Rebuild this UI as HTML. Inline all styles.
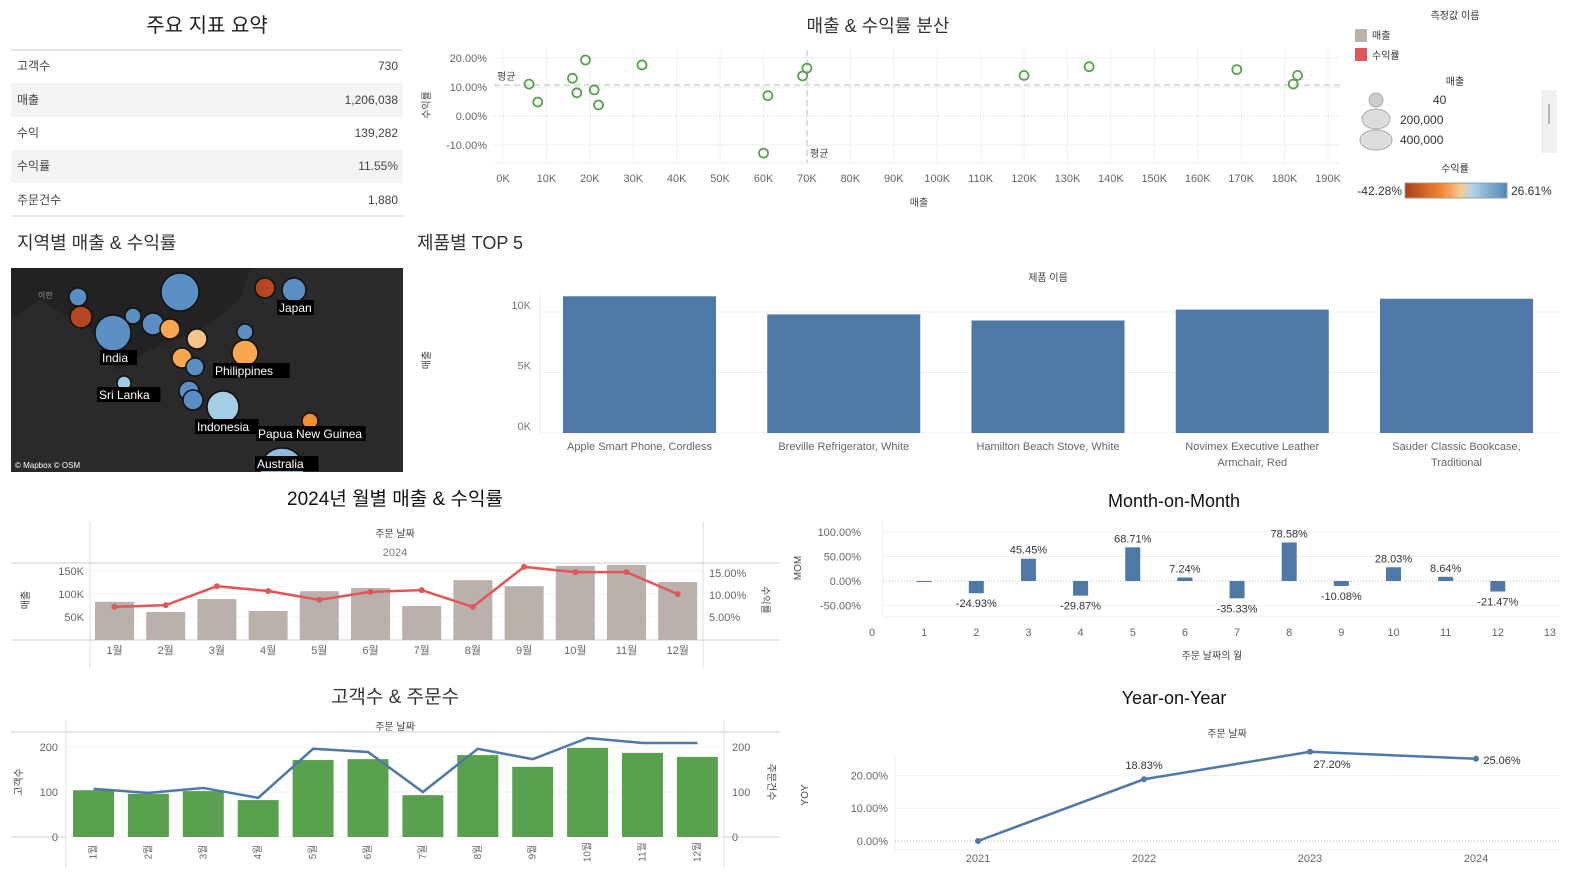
<!DOCTYPE html>
<html><head><meta charset="utf-8"><style>
body{margin:0;background:#fff;font-family:"Liberation Sans","Noto Sans CJK KR",sans-serif}
svg{display:block}
text{font-family:"Liberation Sans","Noto Sans CJK KR",sans-serif}
</style></head><body>
<svg id="s" width="1596" height="890" xmlns="http://www.w3.org/2000/svg">
<defs>
<clipPath id="mapclip"><rect x="11" y="268" width="392" height="204"/></clipPath>
<linearGradient id="g1"><stop offset="0" stop-color="#a8401a"/><stop offset="0.35" stop-color="#f2852e"/><stop offset="0.55" stop-color="#f7c996"/><stop offset="0.65" stop-color="#b6d4e8"/><stop offset="1" stop-color="#4f85b8"/></linearGradient>
</defs>
<!-- Summary -->
<g>
<text x="207" y="32" font-size="20" text-anchor="middle" fill="#222">주요 지표 요약</text>
<line x1="11" y1="50" x2="403" y2="50" stroke="#ccc"/>
<rect x="11" y="83" width="392" height="34" fill="#f4f4f4"/>
<rect x="11" y="150" width="392" height="33" fill="#f4f4f4"/>
<line x1="11" y1="216" x2="403" y2="216" stroke="#ccc"/>
<g font-size="12" fill="#444">
<text x="17" y="70">고객수</text><text x="398" y="70" text-anchor="end">730</text>
<text x="17" y="104">매출</text><text x="398" y="104" text-anchor="end">1,206,038</text>
<text x="17" y="137">수익</text><text x="398" y="137" text-anchor="end">139,282</text>
<text x="17" y="170">수익률</text><text x="398" y="170" text-anchor="end">11.55%</text>
<text x="17" y="204">주문건수</text><text x="398" y="204" text-anchor="end">1,880</text>
</g></g>
<!-- Map -->
<text x="17" y="249" font-size="18" fill="#333">지역별 매출 &amp; 수익률</text>
<g clip-path="url(#mapclip)">
<rect x="11" y="268" width="392" height="204" fill="#2a2a2a"/>
<path d="M11,268 L250,268 L240,300 L200,330 L150,350 L115,370 L90,330 L40,300 L11,320Z" fill="#222"/>
<text x="38" y="298" font-size="8" fill="#999">이란</text>
<g id="mapdots" stroke="#111" stroke-width="1.5"></g>
<g font-size="12" fill="#fff" id="maplabels"></g>
<text x="15" y="468" font-size="8" fill="#fff">© Mapbox © OSM</text>
</g>
<!-- Scatter -->
<text x="878" y="32" font-size="18" fill="#333" text-anchor="middle">매출 &amp; 수익률 분산</text>
<g id="scatter"></g>
<!-- Legends -->
<g font-size="10" fill="#333">
<text x="1455" y="19" font-size="10" text-anchor="middle">측정값 이름</text>
<rect x="1355" y="29" width="12" height="13" fill="#bab0ac"/>
<text x="1372" y="39">매출</text>
<rect x="1355" y="48" width="12" height="13" fill="#e15759"/>
<text x="1372" y="59">수익률</text>
<text x="1455" y="85" text-anchor="middle">매출</text>
<ellipse cx="1376" cy="100" rx="7" ry="7" fill="#ccc" stroke="#aaa"/>
<ellipse cx="1376" cy="119" rx="14" ry="10" fill="#ddd" stroke="#aaa"/>
<ellipse cx="1376" cy="140" rx="16" ry="10" fill="#ddd" stroke="#aaa"/>
<text x="1433" y="104" font-size="12">40</text>
<text x="1400" y="124" font-size="12">200,000</text>
<text x="1400" y="144" font-size="12">400,000</text>
<rect x="1541" y="90" width="16" height="63" fill="#f0f0f0"/>
<line x1="1549" y1="104" x2="1549" y2="124" stroke="#777"/>
<text x="1455" y="172" text-anchor="middle">수익률</text>
<rect x="1405" y="183" width="102" height="15" fill="url(#g1)" stroke="#999"/>
<text x="1402" y="195" text-anchor="end" font-size="12">-42.28%</text>
<text x="1511" y="195" font-size="12">26.61%</text>
</g>
<!-- Top5 -->
<text x="417" y="249" font-size="18" fill="#333">제품별 TOP 5</text>
<g id="top5"></g>
<!-- Monthly -->
<text x="395" y="505" font-size="19" fill="#111" text-anchor="middle">2024년 월별 매출 &amp; 수익률</text>
<g id="monthly"></g>
<!-- Customers -->
<text x="395" y="703" font-size="19" fill="#333" text-anchor="middle">고객수 &amp; 주문수</text>
<g id="cust"></g>
<!-- MoM -->
<text x="1174" y="507" font-size="18" fill="#111" text-anchor="middle">Month-on-Month</text>
<g id="mom"></g>
<!-- YoY -->
<text x="1174" y="704" font-size="18" fill="#111" text-anchor="middle">Year-on-Year</text>
<g id="yoy"></g>
</svg>
<script>
const NS="http://www.w3.org/2000/svg";
function el(p,t,a,txt){const e=document.createElementNS(NS,t);for(const k in a)e.setAttribute(k,a[k]);if(txt!==undefined)e.textContent=txt;p.appendChild(e);return e;}
const G=id=>document.getElementById(id);

// map data
const mapX=[78,81,113,133,153,170,197,182,195,180,265,294,245,245,124,189,193,223,310,282];
const mapY=[297,317,333,316,324,329,339,358,367,292,288,290,332,353,383,391,400,407,421,470];
const mapR=[9,11,18,8,11,10,10,10,9,19,10,12,8,13,7,10,10,16,8,22];
const mapC=["#5b8fc4","#b5461f","#5b8fc4","#5b8fc4","#5b8fc4","#f8a74e","#f4c38a","#f8a74e","#5b8fc4","#5b8fc4","#b5461f","#5b8fc4","#5b8fc4","#f8a74e","#9ccae6","#5b8fc4","#5b8fc4","#a4cfe6","#f28e2b","#8cbde0"];
const mapLabels=["Japan","India","Philippines","Sri Lanka","Indonesia","Papua New Guinea","Australia"];
const mapLX=[279,102,215,99,197,258,257];
const mapLY=[312,362,375,399,431,438,468];
{const g=G('mapdots');mapX.forEach((x,i)=>{const c=el(g,'circle',{cx:x,cy:mapY[i],r:mapR[i],fill:mapC[i]});

});
const gl=G('maplabels');mapLabels.forEach((t,i)=>{const w=t.length*6.6+4;el(gl,'rect',{x:mapLX[i]-2,y:mapLY[i]-12,width:w,height:15,fill:'#000'});const tx=el(gl,'text',{x:mapLX[i],y:mapLY[i]},t);

});}

// scatter
const scSales=[6,8,19,16,17,21,22,32,61,60,69,70,120,135,169,182,183];
const scProfit=[11,4.8,19.3,13,8,9,3.8,17.6,7,-12.8,13.8,16.5,14,17,16,11,14];
const scXTicks=[0,10,20,30,40,50,60,70,80,90,100,110,120,130,140,150,160,170,180,190];
const scYTicks=[20,10,0,-10];
{const g=G('scatter');const sx=v=>503+v*4.342,sy=v=>116-v*2.9;
el(g,'line',{x1:494,y1:163,x2:1340,y2:163,stroke:'#eee'});
scXTicks.forEach(t=>{el(g,'line',{x1:sx(t),y1:50,x2:sx(t),y2:163,stroke:'#f0f0f0'});el(g,'text',{x:sx(t),y:182,'font-size':11,fill:'#666','text-anchor':'middle'},t+'K');});
scYTicks.forEach(t=>{el(g,'line',{x1:494,y1:sy(t),x2:1340,y2:sy(t),stroke:t===0?'#ccc':'#eee','stroke-dasharray':t===0?'1,2':''});el(g,'text',{x:487,y:sy(t)+4,'font-size':11,fill:'#666','text-anchor':'end'},t.toFixed(2)+'%');});
el(g,'line',{x1:494,y1:85,x2:1340,y2:85,stroke:'#ddd','stroke-width':2,'stroke-dasharray':'6,4'});
el(g,'line',{x1:807,y1:50,x2:807,y2:163,stroke:'#ddd','stroke-width':2,'stroke-dasharray':'6,4'});
el(g,'text',{x:497,y:80,'font-size':10,fill:'#444'},'평균');el(g,'text',{x:810,y:157,'font-size':10,fill:'#444'},'평균');
el(g,'text',{x:919,y:206,'font-size':10,fill:'#444','text-anchor':'middle'},'매출');
el(g,'text',{x:0,y:0,'font-size':10,fill:'#444','text-anchor':'middle',transform:'translate(430,105) rotate(-90)'},'수익률');
scSales.forEach((v,i)=>{const c=el(g,'circle',{cx:sx(v),cy:sy(scProfit[i]),r:4.5,fill:'none',stroke:'#59a14f','stroke-width':1.8});

});}

// top5
const topNames=[["Apple Smart Phone, Cordless"],["Breville Refrigerator, White"],["Hamilton Beach Stove, White"],["Novimex Executive Leather","Armchair, Red"],["Sauder Classic Bookcase,","Traditional"]];
const topSales=[11.3,9.8,9.3,10.2,11.1];
const topTicks=[0,5,10];
{const g=G('top5');const sy=v=>433-v*12.1;
el(g,'text',{x:1048,y:281,'font-size':10,fill:'#444','text-anchor':'middle'},'제품 이름');
el(g,'line',{x1:540,y1:290,x2:540,y2:435,stroke:'#eee'});
topTicks.forEach(t=>{el(g,'line',{x1:540,y1:sy(t),x2:1560,y2:sy(t),stroke:'#f2f2f2'});el(g,'text',{x:531,y:sy(t)-3,'font-size':11,fill:'#777','text-anchor':'end'},t+'K');});
el(g,'text',{x:0,y:0,'font-size':10,fill:'#444','text-anchor':'middle',transform:'translate(430,360) rotate(-90)'},'매출');
topSales.forEach((v,i)=>{const x=563+i*204.25;const r=el(g,'rect',{x:x,y:sy(v),width:153,height:sy(0)-sy(v),fill:'#4e79a7'});


topNames[i].forEach((ln,j)=>el(g,'text',{x:x+76.5,y:450+j*16,'font-size':11,fill:'#666','text-anchor':'middle'},ln));});}

// monthly
const months=["1월","2월","3월","4월","5월","6월","7월","8월","9월","10월","11월","12월"];
const mSales=[83,61,89,63,106,113,74,130,117,161,163,126];
const mProfit=[7.3,7.7,12,10.9,8.9,10.7,11.1,7.3,16.4,15.2,15.2,10.2];
const mSalesTicks=[50,100,150];
const mProfitTicks=[5,10,15];
{const g=G('monthly');const sy=v=>640-v*0.46,py=v=>639-v*4.4,cx=i=>114.5+i*51.2;
el(g,'line',{x1:11,y1:563,x2:780,y2:563,stroke:'#ccc'});el(g,'line',{x1:11,y1:640,x2:780,y2:640,stroke:'#ccc'});
el(g,'line',{x1:90,y1:522,x2:90,y2:668,stroke:'#ddd'});el(g,'line',{x1:703,y1:522,x2:703,y2:668,stroke:'#ddd'});
el(g,'text',{x:395,y:537,'font-size':10,fill:'#444','text-anchor':'middle'},'주문 날짜');
el(g,'text',{x:395,y:556,'font-size':11,fill:'#777','text-anchor':'middle'},'2024');
mSalesTicks.forEach(t=>{el(g,'line',{x1:90,y1:sy(t),x2:703,y2:sy(t),stroke:'#f2f2f2'});el(g,'text',{x:84,y:sy(t)+4,'font-size':11,fill:'#666','text-anchor':'end'},t+'K');});
mProfitTicks.forEach(t=>el(g,'text',{x:709,y:py(t)+4,'font-size':11,fill:'#666'},t.toFixed(2)+'%'));
el(g,'text',{x:0,y:0,'font-size':10,fill:'#444','text-anchor':'middle',transform:'translate(29,600) rotate(-90)'},'매출');
el(g,'text',{x:0,y:0,'font-size':10,fill:'#444','text-anchor':'middle',transform:'translate(762,600) rotate(90)'},'수익률');
mSales.forEach((v,i)=>{const r=el(g,'rect',{x:cx(i)-19.5,y:sy(v),width:39,height:sy(0)-sy(v),fill:'#bab0ac'});


el(g,'text',{x:cx(i),y:654,'font-size':11,fill:'#666','text-anchor':'middle'},months[i]);});
el(g,'polyline',{points:mProfit.map((v,i)=>cx(i)+','+py(v)).join(' '),fill:'none',stroke:'#e15759','stroke-width':2.5});
mProfit.forEach((v,i)=>{const c=el(g,'circle',{cx:cx(i),cy:py(v),r:3,fill:'#e15759'});

});}

// customers
const cCustomers=[104,96,102,82,171,173,93,182,156,198,187,178];
const cOrders=[107,98,109,87,196,189,100,196,173,220,209,209];
const cTicks=[0,100,200];
{const g=G('cust');const sy=v=>837-v*0.45,cx=i=>93.5+i*54.9;
el(g,'line',{x1:11,y1:732,x2:780,y2:732,stroke:'#ccc'});el(g,'line',{x1:11,y1:837,x2:780,y2:837,stroke:'#ccc'});
el(g,'line',{x1:66,y1:720,x2:66,y2:868,stroke:'#ddd'});el(g,'line',{x1:724,y1:720,x2:724,y2:868,stroke:'#ddd'});
el(g,'text',{x:395,y:730,'font-size':10,fill:'#444','text-anchor':'middle'},'주문 날짜');
cTicks.forEach(t=>{el(g,'line',{x1:66,y1:sy(t),x2:724,y2:sy(t),stroke:'#f2f2f2'});el(g,'text',{x:58,y:sy(t)+4,'font-size':11,fill:'#666','text-anchor':'end'},t);el(g,'text',{x:732,y:sy(t)+4,'font-size':11,fill:'#666'},t);});
el(g,'text',{x:0,y:0,'font-size':10,fill:'#444','text-anchor':'middle',transform:'translate(22,782) rotate(-90)'},'고객수');
el(g,'text',{x:0,y:0,'font-size':10,fill:'#444','text-anchor':'middle',transform:'translate(768,782) rotate(90)'},'주문건수');
cCustomers.forEach((v,i)=>{const r=el(g,'rect',{x:cx(i)-20.5,y:sy(v),width:41,height:sy(0)-sy(v),fill:'#59a14f'});


el(g,'text',{x:0,y:0,'font-size':10,fill:'#666','text-anchor':'middle',transform:'translate('+(cx(i)+3)+',852) rotate(-90)'},months[i]);});
el(g,'polyline',{points:cOrders.map((v,i)=>cx(i)+','+sy(v)).join(' '),fill:'none',stroke:'#4e79a7','stroke-width':2.5});}

// MoM
const momMonths=[1,2,3,4,5,6,7,8,9,10,11,12];
const momVals=[-1,-24.93,45.45,-29.87,68.71,7.24,-35.33,78.58,-10.08,28.03,8.64,-21.47];
const momTicks=[100,50,0,-50];
const momXTicks=[0,1,2,3,4,5,6,7,8,9,10,11,12,13];
{const g=G('mom');const sx=v=>872+v*52.15,sy=v=>581-v*0.49;
el(g,'line',{x1:883,y1:520,x2:883,y2:617,stroke:'#eee'});
el(g,'line',{x1:883,y1:617,x2:1560,y2:617,stroke:'#eee'});
momTicks.forEach(t=>{el(g,'line',{x1:883,y1:sy(t),x2:1560,y2:sy(t),stroke:t===0?'#bbb':'#f0f0f0','stroke-dasharray':t===0?'1,2':''});el(g,'text',{x:861,y:sy(t)+4,'font-size':11,fill:'#666','text-anchor':'end'},t.toFixed(2)+'%');});
momXTicks.forEach(t=>el(g,'text',{x:sx(t),y:636,'font-size':11,fill:'#666','text-anchor':'middle'},t));
el(g,'text',{x:1212,y:659,'font-size':10,fill:'#444','text-anchor':'middle'},'주문 날짜의 월');
el(g,'text',{x:0,y:0,'font-size':10,fill:'#444','text-anchor':'middle',transform:'translate(801,568) rotate(-90)'},'MOM');
momVals.forEach((v,i)=>{const x=sx(momMonths[i]);const y0=sy(0),y1=sy(v);const r=el(g,'rect',{x:x-7.5,y:Math.min(y0,y1),width:15,height:Math.max(1,Math.abs(y1-y0)),fill:'#4e79a7'});


if(i>0)el(g,'text',{x:x,y:v>=0?y1-5:y1+14,'font-size':11,fill:'#333','text-anchor':'middle'},v.toFixed(2)+'%');});}

// YoY
const yoyYears=[2021,2022,2023,2024];
const yoyVals=[0,18.83,27.20,25.06];
const yoyTicks=[0,10,20];
{const g=G('yoy');const sx=i=>978+i*166,sy=v=>841-v*3.28;
el(g,'text',{x:1227,y:737,'font-size':10,fill:'#444','text-anchor':'middle'},'주문 날짜');
el(g,'line',{x1:895,y1:755,x2:895,y2:850,stroke:'#eee'});
el(g,'line',{x1:895,y1:850,x2:1560,y2:850,stroke:'#eee'});
yoyTicks.forEach(t=>{el(g,'line',{x1:895,y1:sy(t),x2:1560,y2:sy(t),stroke:t===0?'#bbb':'#f0f0f0','stroke-dasharray':t===0?'1,2':''});el(g,'text',{x:888,y:sy(t)+4,'font-size':11,fill:'#666','text-anchor':'end'},t.toFixed(2)+'%');});
yoyYears.forEach((y,i)=>el(g,'text',{x:sx(i),y:862,'font-size':11,fill:'#666','text-anchor':'middle'},y));
el(g,'text',{x:0,y:0,'font-size':10,fill:'#444','text-anchor':'middle',transform:'translate(808,795) rotate(-90)'},'YOY');
el(g,'polyline',{points:yoyVals.map((v,i)=>sx(i)+','+sy(v)).join(' '),fill:'none',stroke:'#4e79a7','stroke-width':2.5});
const lx=[-22,0,22,26],ly=[0,-10,16,5];
yoyVals.forEach((v,i)=>{const c=el(g,'circle',{cx:sx(i),cy:sy(v),r:3,fill:'#4e79a7'});


if(i>0)el(g,'text',{x:sx(i)+lx[i],y:sy(v)+ly[i],'font-size':11,fill:'#333','text-anchor':'middle'},v.toFixed(2)+'%');});}
</script>
</body></html>
